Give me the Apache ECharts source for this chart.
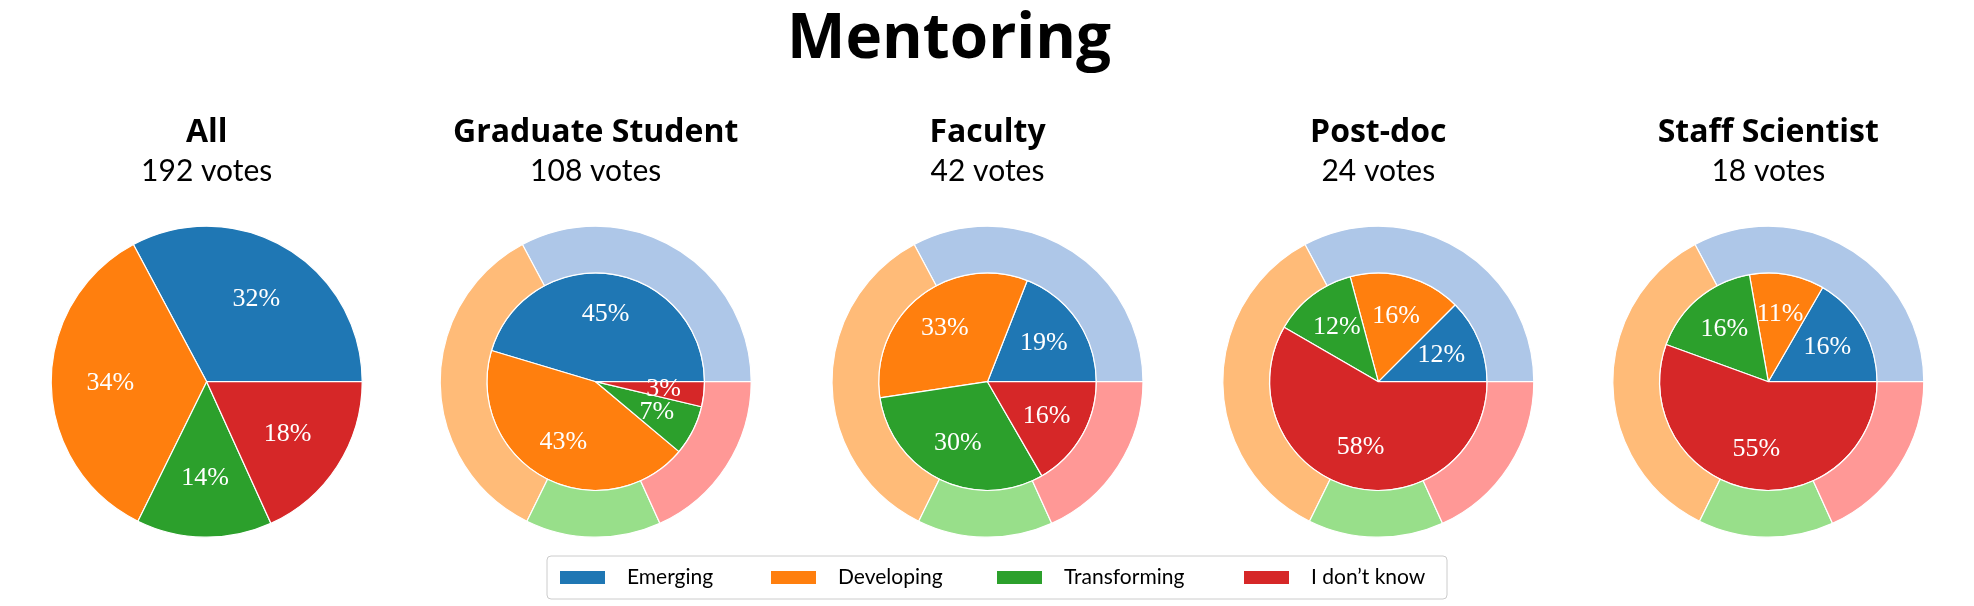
<!DOCTYPE html>
<html>
<head>
<meta charset="utf-8">
<script src="https://cdn.jsdelivr.net/npm/echarts@6/dist/echarts.min.js"></script>
<style>
html,body{margin:0;padding:0;background:#fff;}
#chart{width:1974px;height:606px;}
</style>
</head>
<body>
<div id="chart"></div>
<script>
// ---- data ----
const categories = ['Emerging', 'Developing', 'Transforming', 'I don\u2019t know'];
const groupNames = ['All', 'Graduate Student', 'Faculty', 'Post-doc', 'Staff Scientist'];
const votesAll = [63, 67, 27, 35];
const votesGraduate = [49, 47, 8, 4];
const votesFaculty = [8, 14, 13, 7];
const votesPostdoc = [3, 4, 3, 14];
const votesStaff = [3, 2, 3, 10];
const darkColors = ['#1f77b4', '#ff7f0e', '#2ca02c', '#d62728'];
const lightColors = ['#aec7e8', '#ffbb78', '#98df8a', '#ff9896'];

// ---- layout ----
const groupVotes = [votesAll, votesGraduate, votesFaculty, votesPostdoc, votesStaff];
const centersX = [206.7, 595.7, 987.5, 1378.3, 1768.3];
const centerY = 381.7;
const R = 155.5;
const rInner = 108.8;

function sum(a) { return a.reduce((s, v) => s + v, 0); }
function mkData(vals, colors) {
  return vals.map((v, i) => ({ name: categories[i], value: v, itemStyle: { color: colors[i] } }));
}
function labelFormatter(vals) {
  const t = sum(vals);
  return p => Math.floor(p.value / t * 100) + '%';
}

const series = [];
const titles = [{
  text: 'Mentoring', left: 949, top: 9, textAlign: 'center', padding: 0,
  textStyle: { fontFamily: 'Open Sans', fontWeight: 'bold', fontSize: 62, color: '#000' }
}];

groupVotes.forEach((vals, gi) => {
  const cx = centersX[gi];
  const isAll = gi === 0;
  const rMain = isAll ? R : rInner;
  titles.push({
    text: groupNames[gi], left: cx, top: 117, textAlign: 'center', padding: 0,
    textStyle: { fontFamily: 'Open Sans', fontWeight: 'bold', fontSize: 32, color: '#000', lineHeight: 32 }
  });
  titles.push({
    text: sum(vals) + ' votes', left: cx, top: 156, textAlign: 'center', padding: 0,
    textStyle: { fontFamily: 'Lato', fontWeight: 'normal', fontSize: 30, color: '#000', lineHeight: 30 }
  });
  // main pie
  series.push({
    type: 'pie', center: [cx, centerY], radius: [0, rMain],
    startAngle: 0, clockwise: false, silent: true, animation: false,
    label: { show: false }, labelLine: { show: false },
    itemStyle: { borderColor: '#fff', borderWidth: 1.2 },
    emphasis: { disabled: true },
    data: mkData(vals, darkColors)
  });
  if (!isAll) {
    // outer ring showing overall distribution
    series.push({
      type: 'pie', center: [cx, centerY], radius: [rInner, R],
      startAngle: 0, clockwise: false, silent: true, animation: false,
      label: { show: false }, labelLine: { show: false },
      itemStyle: { borderColor: '#fff', borderWidth: 1.2 },
      emphasis: { disabled: true },
      data: mkData(votesAll, lightColors)
    });
  }
  // label carrier: labels placed at 0.6 of the radius
  series.push({
    type: 'pie', center: [cx, centerY], radius: [0.2 * rMain, rMain],
    startAngle: 0, clockwise: false, silent: true, animation: false,
    labelLayout: { hideOverlap: false },
    itemStyle: { color: 'rgba(0,0,0,0)', borderWidth: 0 },
    label: {
      show: true, position: 'inside', rotate: 0,
      formatter: labelFormatter(vals),
      color: '#fff', fontFamily: '"Liberation Serif", serif', fontSize: 26, fontWeight: 'normal'
    },
    labelLine: { show: false },
    emphasis: { disabled: true },
    data: vals.map((v, i) => ({ name: categories[i], value: v }))
  });
});

const legendWidths = [91, 106, 127, 123];
const chart = echarts.init(document.getElementById('chart'), null, { renderer: 'canvas' });
chart.setOption({
  backgroundColor: '#fff',
  animation: false,
  title: titles,
  legend: {
    left: 547, top: 556, orient: 'horizontal',
    padding: [10, 13, 10, 11],
    itemWidth: 47, itemHeight: 15, itemGap: 51, icon: 'rect',
    borderColor: '#cccccc', borderWidth: 1, borderRadius: 4,
    backgroundColor: 'rgba(255,255,255,0.8)',
    selectedMode: false,
    textStyle: { fontFamily: 'Lato', fontSize: 21, color: '#000', lineHeight: 23, padding: [0, 0, 0, 16] },
    data: categories.map((c, i) => ({ name: c, textStyle: { width: legendWidths[i] } }))
  },
  series: series
});
</script>
</body>
</html>
